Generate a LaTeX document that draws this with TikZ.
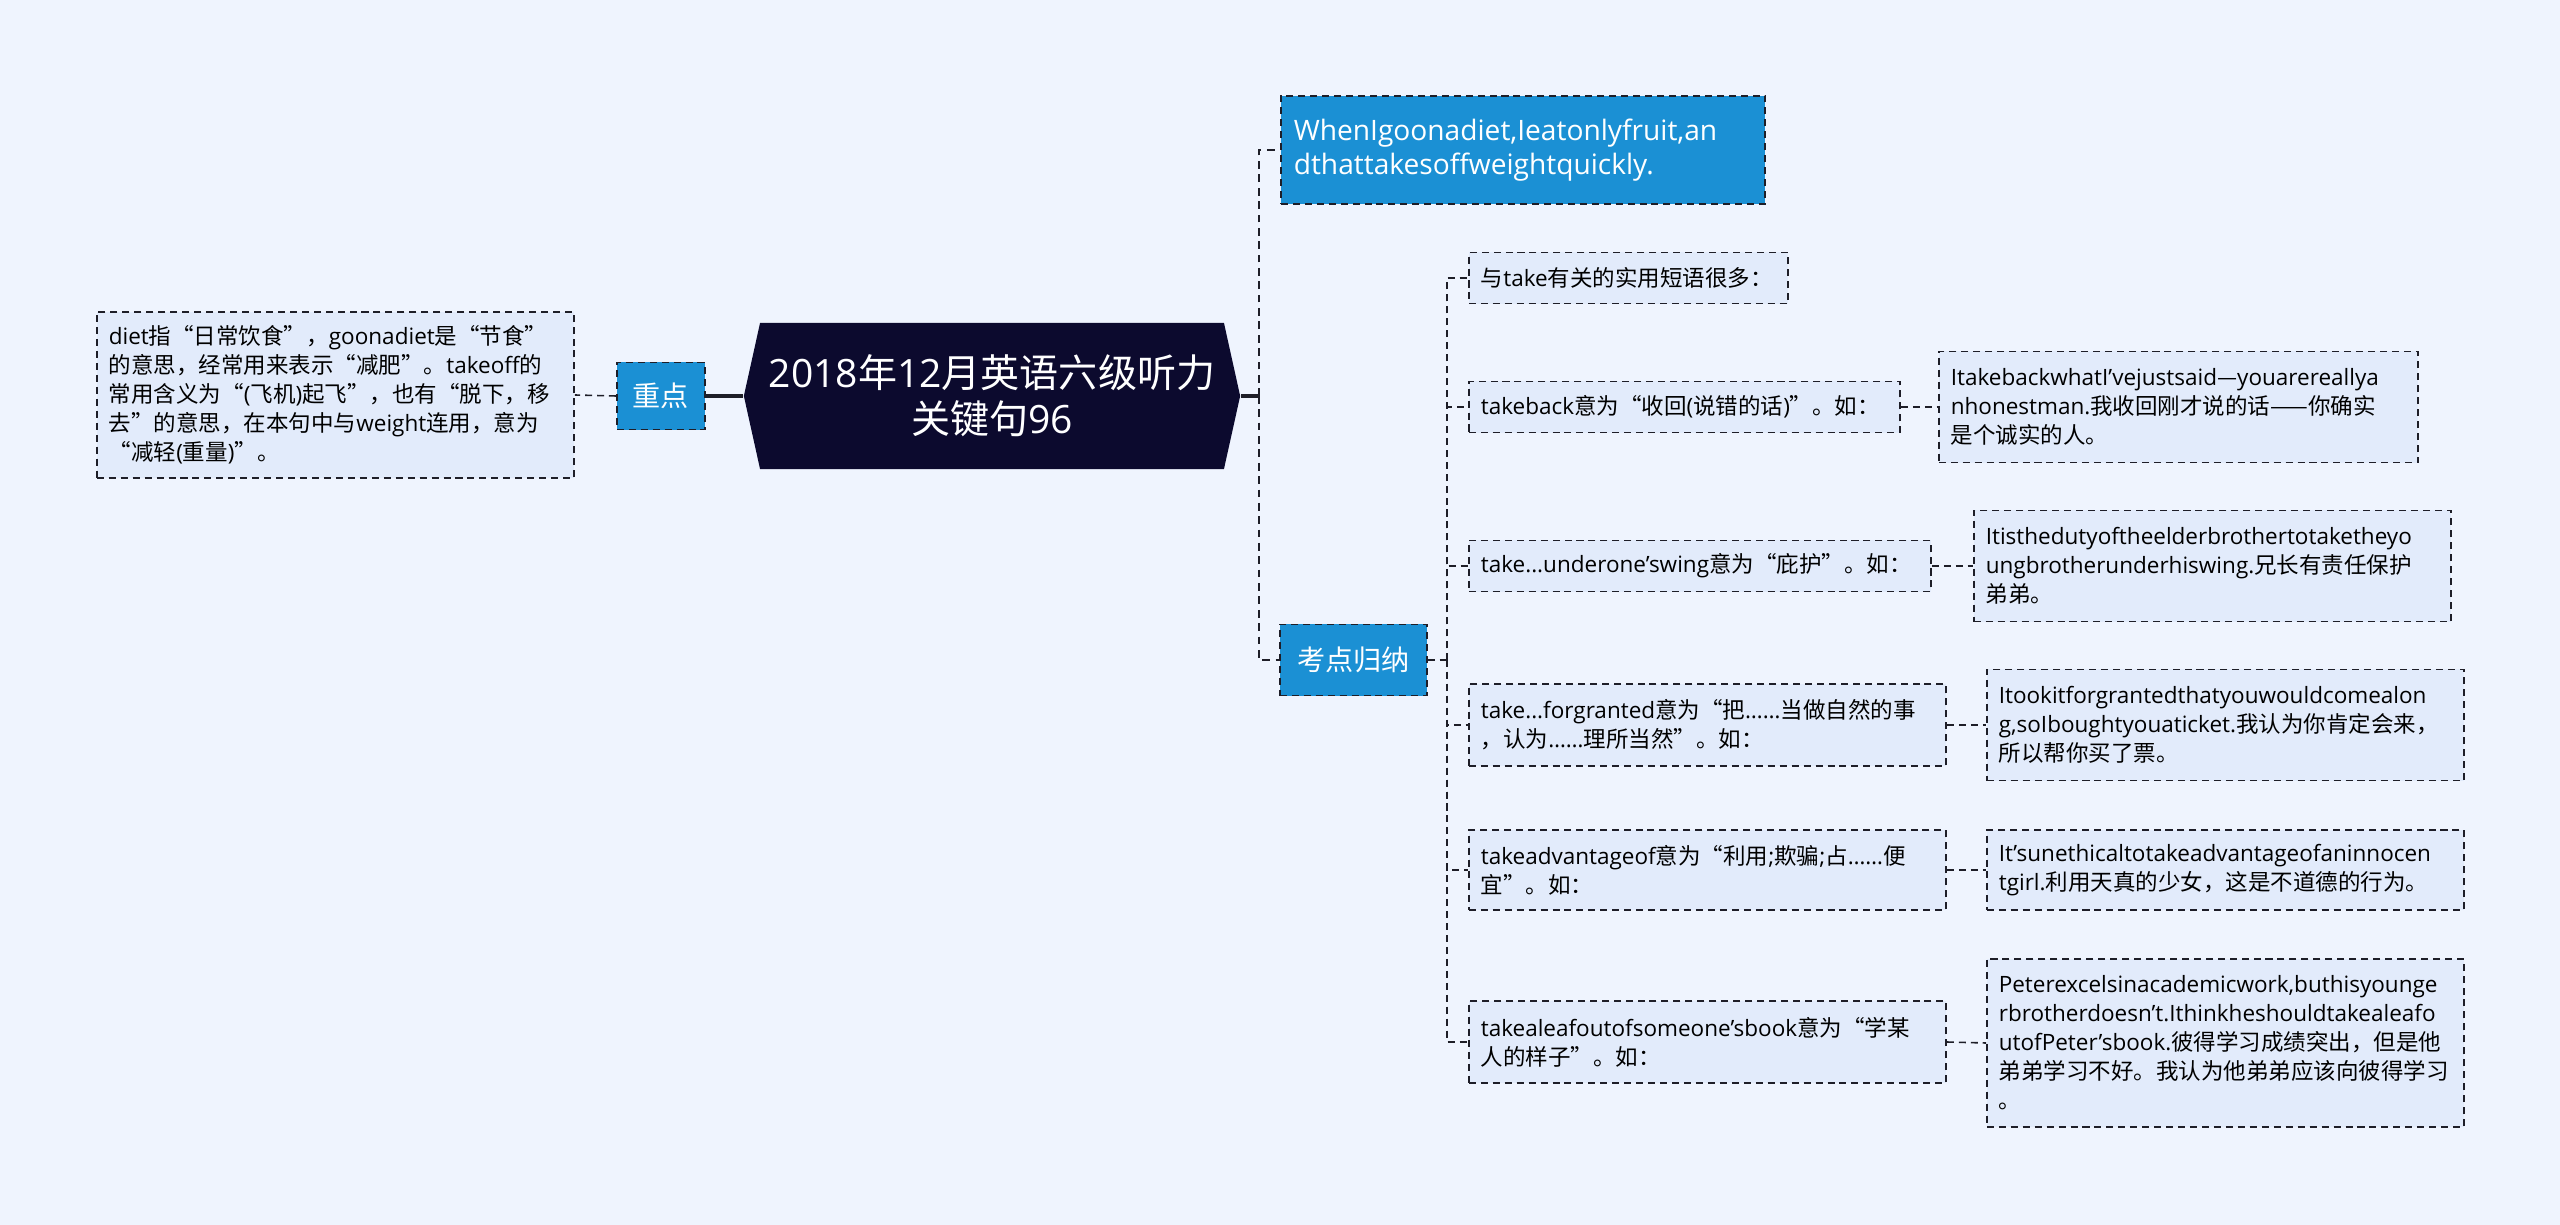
\documentclass[tikz,border=0pt]{standalone}
\usepackage{fontspec}
\setmainfont{Open Sans}
\newfontfamily\cjkfont{Noto Sans CJK SC}
\usepackage{tikz}
\usetikzlibrary{shapes, positioning}
\definecolor{pagebg}{RGB}{239,244,254}
\definecolor{leaffill}{RGB}{226,235,251}
\definecolor{mainblue}{RGB}{27,144,212}
\definecolor{rootfill}{RGB}{12,10,46}
\definecolor{edge}{RGB}{30,30,40}
\lefthyphenmin=64
% Chinese glyphs from the CJK family, Latin from the main one
\XeTeXinterchartokenstate=1
\newXeTeXintercharclass\cjkcls
\newcount\cjkc
\def\cjkrange#1#2{\cjkc=#1\relax
  \loop\XeTeXcharclass\cjkc=\cjkcls\ifnum\cjkc<#2\advance\cjkc by 1\repeat}
\cjkrange{"4E00}{"9FFF}
\cjkrange{"3000}{"303F}
\cjkrange{"FF00}{"FFEF}
\XeTeXcharclass"201C=\cjkcls
\XeTeXcharclass"201D=\cjkcls
\XeTeXcharclass"2014=\cjkcls
\XeTeXinterchartoks 0 \cjkcls = {\cjkfont}
\XeTeXinterchartoks 4095 \cjkcls = {\cjkfont}
\XeTeXinterchartoks \cjkcls 0 = {\normalfont}
\XeTeXinterchartoks \cjkcls 4095 = {\normalfont}

\begin{document}
\begin{tikzpicture}[
  x=0.01cm, y=-0.01cm,
  leaf/.style={rectangle, draw=edge, fill=leaffill, line width=0.45pt,
    dash pattern=on 2pt off 1.4pt, anchor=west, align=left,
    inner xsep=0.12cm, inner ysep=0.08cm, font=\fontsize{6.4}{8.25}\selectfont},
  topic/.style={rectangle, draw=edge, fill=mainblue, text=white, line width=0.45pt,
    dash pattern=on 2pt off 1.4pt, anchor=west, align=center,
    inner xsep=0.13cm, font=\fontsize{8.0}{9.6}\selectfont},
  root/.style={signal, signal to=west and east, signal pointer angle=155,
    fill=rootfill, text=white, align=center, inner sep=0pt,
    minimum width=4.96cm, minimum height=1.46cm, font=\fontsize{11.1}{13.1}\selectfont},
  link/.style={draw=edge, line width=0.45pt, dash pattern=on 2pt off 1.4pt},
  trunk/.style={draw=edge, line width=0.6pt, dash pattern=on 2.2pt off 1.6pt},
  stem/.style={draw=edge, line width=0.9pt}
  ]
  \fill[pagebg] (0,0) rectangle (2560,1225);
  \useasboundingbox (0,0) rectangle (2560,1225);

  \node[root] (root) at (992,396) {2018年12月英语六级听力\\关键句96};

  % left side
  \node[topic, minimum width=0.88cm, minimum height=0.67cm] (zd) at (616,396) {重点};
  \node[leaf, text width=4.53cm, minimum height=1.66cm] (diet) at (96,395)
    {diet指“日常饮食”，goonadiet是“节食”\\的意思，经常用来表示“减肥”。takeoff的\\常用含义为“(飞机)起飞”，也有“脱下，移\\去”的意思，在本句中与weight连用，意为\\“减轻(重量)”。};

  % right side
  \node[topic, text width=4.58cm, align=left, minimum height=1.08cm] (tip) at (1280,150)
    {WhenIgoonadiet,Ieatonlyfruit,an\\dthattakesoffweightquickly.};
  \node[topic, minimum width=1.47cm, minimum height=0.71cm] (kd) at (1279,660) {考点归纳};

  \node[leaf, text width=2.95cm, minimum height=0.51cm] (c1) at (1468,278) {与take有关的实用短语很多：};
  \node[leaf, text width=4.07cm, minimum height=0.51cm] (c2) at (1468,407) {takeback意为“收回(说错的话)”。如：};
  \node[leaf, text width=4.38cm, minimum height=0.51cm] (c3) at (1468,566) {take...underone'swing意为“庇护”。如：};
  \node[leaf, text width=4.53cm, minimum height=0.82cm] (c4) at (1468,725) {take...forgranted意为“把……当做自然的事\\，认为……理所当然”。如：};
  \node[leaf, text width=4.53cm, minimum height=0.80cm] (c5) at (1468,870) {takeadvantageof意为“利用;欺骗;占……便\\宜”。如：};
  \node[leaf, text width=4.53cm, minimum height=0.82cm] (c6) at (1468,1042) {takealeafoutofsomeone'sbook意为“学某\\人的样子”。如：};

  \node[leaf, text width=4.55cm, minimum height=1.11cm] (e2) at (1938,407)
    {ItakebackwhatI'vejustsaid—youarereallya\\nhonestman.我收回刚才说的话——你确实\\是个诚实的人。};
  \node[leaf, text width=4.53cm, minimum height=1.11cm] (e3) at (1973,566)
    {Itisthedutyoftheelderbrothertotaketheyo\\ungbrotherunderhiswing.兄长有责任保护\\弟弟。};
  \node[leaf, text width=4.53cm, minimum height=1.11cm] (e4) at (1986,725)
    {Itookitforgrantedthatyouwouldcomealon\\g,soIboughtyouaticket.我认为你肯定会来，\\所以帮你买了票。};
  \node[leaf, text width=4.53cm, minimum height=0.80cm] (e5) at (1986,870)
    {It'sunethicaltotakeadvantageofaninnocen\\tgirl.利用天真的少女，这是不道德的行为。};
  \node[leaf, text width=4.53cm, minimum height=1.68cm] (e6) at (1986,1043)
    {Peterexcelsinacademicwork,buthisyounge\\rbrotherdoesn't.Ithinkheshouldtakealeafo\\utofPeter'sbook.彼得学习成绩突出，但是他\\弟弟学习不好。我认为他弟弟应该向彼得学习\\。};

  \coordinate (fork) at (1259,396);
  \coordinate (split) at (1447,660);

  \draw[stem] (root.west) -- (zd.east);
  \draw[link] (zd.west) -- (diet.east);
  \draw[stem] (root.east) -- (fork);
  \draw[trunk] (fork) |- (tip.west);
  \draw[trunk] (fork) |- (kd.west);
  \draw[link] (kd.east) -- (split);
  \foreach \i in {1,...,6}
    \draw[link] (split) |- (c\i.west);
  \foreach \i in {2,...,6}
    \draw[link] (c\i.east) -- (e\i.west);
\end{tikzpicture}
\end{document}
